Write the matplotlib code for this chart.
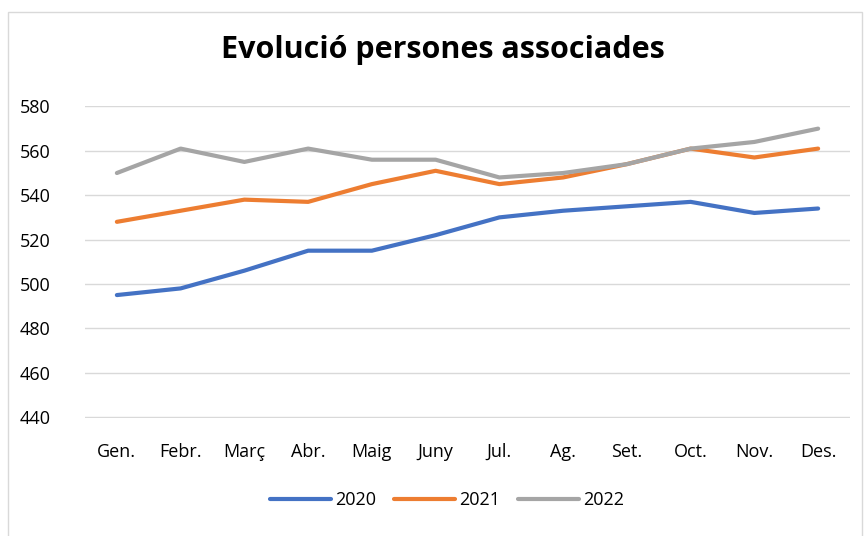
import matplotlib.pyplot as plt
from matplotlib.patches import Rectangle

plt.rcParams['font.family'] = ['Open Sans', 'DejaVu Sans']

months = ["Gen.", "Febr.", "Març", "Abr.", "Maig", "Juny",
          "Jul.", "Ag.", "Set.", "Oct.", "Nov.", "Des."]
y2020 = [495, 498, 506, 515, 515, 522, 530, 533, 535, 537, 532, 534]
y2021 = [528, 533, 538, 537, 545, 551, 545, 548, 554, 561, 557, 561]
y2022 = [550, 561, 555, 561, 556, 556, 548, 550, 554, 561, 564, 570]
yticks = [440, 460, 480, 500, 520, 540, 560, 580]

W, H = 865, 536
fig = plt.figure(figsize=(W / 100, H / 100), dpi=100)
fig.patch.set_facecolor('white')

# chart border
fig.patches.append(Rectangle((8 / W, -0.05), (W - 11) / W, (H - 12) / H + 0.05,
                             transform=fig.transFigure, fill=False,
                             edgecolor='#D9D9D9', linewidth=1))

ax = fig.add_axes([85 / W, 1 - 418 / H, (850 - 85) / W, (418 - 106) / H])
x = list(range(len(months)))
ax.plot(x, y2020, color='#4472C4', lw=3, solid_capstyle='round', label='2020', zorder=3)
ax.plot(x, y2021, color='#ED7D31', lw=3, solid_capstyle='round', label='2021', zorder=3)
ax.plot(x, y2022, color='#A5A5A5', lw=3, solid_capstyle='round', label='2022', zorder=3)

ax.set_xlim(-0.5, len(months) - 0.5)
ax.set_ylim(439.6, 580.2)
ax.set_yticks(yticks)
ax.set_xticks(x)
ax.set_xticklabels(months)
ax.tick_params(axis='both', length=0, labelsize=13, colors='#000000')
ax.tick_params(axis='y', pad=25)
ax.tick_params(axis='x', pad=18)
ax.grid(axis='y', color='#D9D9D9', lw=1)
ax.set_axisbelow(True)
for s in ax.spines.values():
    s.set_visible(False)

fig.text(443 / W, 1 - 50 / H, "Evolució persones associades", ha='center', va='center',
         fontsize=22, fontweight='bold')

fig.legend(loc='center', bbox_to_anchor=(447 / W, 1 - 500 / H), ncol=3, frameon=False,
           fontsize=13, handlelength=3.4, columnspacing=1.0, handletextpad=0.2)

fig.savefig('out.png', dpi=100)
